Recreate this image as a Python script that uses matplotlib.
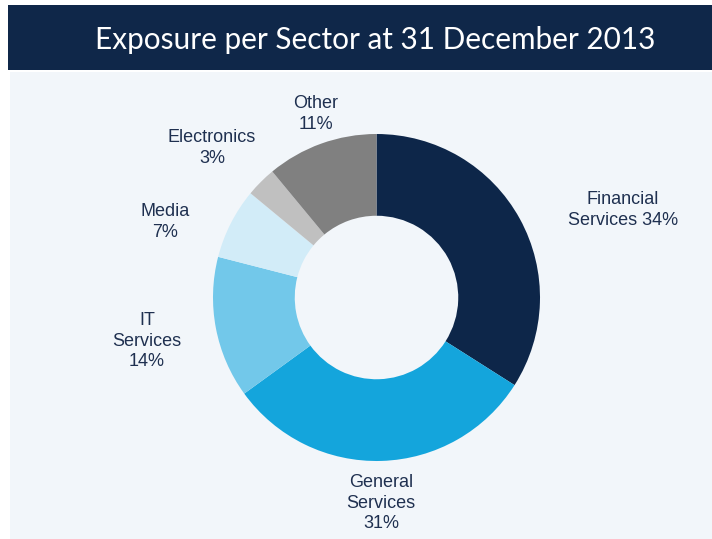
import matplotlib
matplotlib.use("Agg")
import matplotlib.pyplot as plt
from matplotlib.patches import Rectangle

# Sector exposure (% of total), clockwise from 12 o'clock
sectors = ["Financial\nServices 34%", "General\nServices\n31%", "IT\nServices\n14%",
           "Media\n7%", "Electronics\n3%", "Other\n11%"]
shares = [34, 31, 14, 7, 3, 11]
colors = ["#0d2649", "#14a5dc", "#72c8ea", "#d2ecf8", "#c0c0c0", "#808080"]
title = "Exposure per Sector at 31 December 2013"

W, H = 712, 539
fig = plt.figure(figsize=(W / 100, H / 100), dpi=100)
ax = fig.add_axes([0, 0, 1, 1])

def py(y):
    # convert a top-down pixel row to the upward data axis
    return H - y

# header band and panel background
ax.add_patch(Rectangle((8, py(70)), W - 8, 65, facecolor="#0f2749", edgecolor="none", zorder=0))
ax.add_patch(Rectangle((10, -2), W - 10, py(72) + 2, facecolor="#f2f6fa", edgecolor="none", zorder=0))
ax.text(375, py(40), title, ha="center", va="center", color="white",
        fontsize=21.4, family="Lato")

cx, cy, r = 376.5, py(297.5), 163.5
ax.pie(shares, colors=colors, startangle=90, counterclock=False,
       center=(cx, cy), radius=r,
       wedgeprops=dict(width=r * 0.5, edgecolor="none", linewidth=0))

label_pos = [(568, 210), (381, 503), (147, 341), (165, 222), (212, 148), (316, 114)]
label_align = ["left", "center", "center", "center", "center", "center"]
for text, (x, y), ha in zip(sectors, label_pos, label_align):
    ax.text(x, py(y), text, ha=ha, va="center",
            multialignment="center", color="#1f3050", fontsize=13,
            family="Liberation Sans", linespacing=1.25)

ax.set_xlim(0, W)
ax.set_ylim(0, H)
ax.set_aspect("auto")
ax.axis("off")
fig.savefig("out.png", dpi=100, facecolor="white")
